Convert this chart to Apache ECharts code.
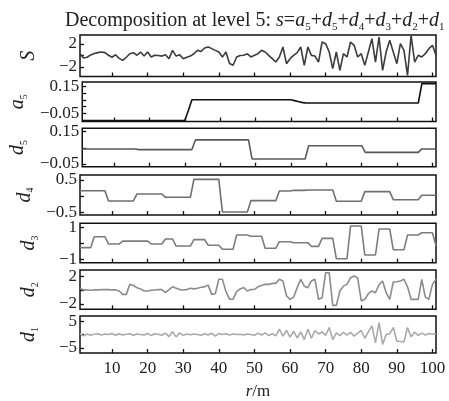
<!DOCTYPE html>
<html>
<head>
<meta charset="utf-8">
<script src="https://cdn.jsdelivr.net/npm/echarts@6/dist/echarts.min.js"></script>
<style>
html, body { margin: 0; padding: 0; background: #fff; }
#main { width: 449px; height: 401px; }
</style>
</head>
<body>
<div id="main"></div>
<script>
// r/m positions 1..101, ticks every 10
var xTicks = [10, 20, 30, 40, 50, 60, 70, 80, 90, 100];

var sVals = [
  0.3, -0.43, -0.3, 0.1, 0.35, 0.5, 0.6, 0.5, 0.05, -0.3,
  0.14, -0.5, -0.84, -0.3, 0.3, 0.5, 0.05, 0.6, -0.1, 0.6,
  -0.25, 0.05, 0.0, -0.1, 0.15, -0.55, 0.9, -0.1, 0.15, -0.55,
  -0.3, -0.1, 0.3, 0.9, 0.7, 1.3, 1.5, 1.2, 0.9, 0.6,
  -0.25, 0.6, -1.4, -1.7, -0.25, 0.0, 0.05, 0.3, -0.25, 0.03,
  0.32, 0.9, 0.61, 0.03, -0.55, -1.13, -0.26, 1.48, -1.42, -0.55,
  0.03, 0.5, 1.48, -1.71, 1.48, 0.03, -0.09, -1.13, 2.35, 2.06,
  0.61, -2.29, 0.61, -2.58, 0.32, -0.26, 2.35, 1.77, -0.26, 0.32,
  -1.71, 0.61, 2.93, -1.13, 3.22, -2.58, 0.61, 2.64, 0.61, -1.42,
  2.06, 0.9, -3.45, 3.51, -1.13, 0.03, -0.26, 0.32, 1.19, 1.77,
  0.03
];

var a5Vals = [
  -0.105, -0.105, -0.105, -0.105, -0.105, -0.105, -0.105, -0.105, -0.105, -0.105,
  -0.105, -0.105, -0.105, -0.105, -0.105, -0.105, -0.105, -0.105, -0.105, -0.105,
  -0.105, -0.105, -0.105, -0.105, -0.105, -0.105, -0.105, -0.105, -0.105, -0.105,
  -0.03, 0.052, 0.052, 0.052, 0.052, 0.052, 0.052, 0.052, 0.052, 0.052,
  0.052, 0.052, 0.052, 0.052, 0.052, 0.052, 0.052, 0.052, 0.052, 0.052,
  0.052, 0.052, 0.052, 0.052, 0.052, 0.052, 0.052, 0.052, 0.052, 0.052,
  0.045, 0.038, 0.032, 0.028, 0.027, 0.027, 0.027, 0.027, 0.027, 0.027,
  0.027, 0.027, 0.027, 0.027, 0.027, 0.027, 0.027, 0.027, 0.027, 0.027,
  0.027, 0.027, 0.027, 0.027, 0.027, 0.027, 0.027, 0.027, 0.027, 0.027,
  0.027, 0.027, 0.027, 0.027, 0.027, 0.027, 0.173, 0.173, 0.173, 0.173,
  0.173
];

var d5Vals = [
  0.043, 0.043, 0.043, 0.043, 0.043, 0.043, 0.043, 0.043, 0.043, 0.043,
  0.043, 0.043, 0.043, 0.043, 0.043, 0.043, 0.039, 0.039, 0.039, 0.039,
  0.039, 0.039, 0.039, 0.039, 0.039, 0.039, 0.039, 0.039, 0.039, 0.039,
  0.039, 0.039, 0.099, 0.099, 0.099, 0.099, 0.099, 0.099, 0.099, 0.099,
  0.099, 0.099, 0.099, 0.099, 0.099, 0.099, 0.099, 0.099, -0.019, -0.019,
  -0.019, -0.019, -0.019, -0.019, -0.019, -0.019, -0.019, -0.019, -0.019, -0.019,
  -0.019, -0.019, -0.019, -0.019, 0.063, 0.063, 0.063, 0.063, 0.063, 0.063,
  0.063, 0.063, 0.063, 0.063, 0.063, 0.063, 0.063, 0.063, 0.063, 0.063,
  0.022, 0.022, 0.022, 0.022, 0.022, 0.022, 0.022, 0.022, 0.022, 0.022,
  0.022, 0.022, 0.022, 0.022, 0.022, 0.022, 0.043, 0.043, 0.043, 0.043,
  0.043
];

var d4Vals = [
  0.169, 0.169, 0.169, 0.169, 0.169, 0.169, 0.169, 0.169, -0.15, -0.15,
  -0.15, -0.15, -0.15, -0.15, -0.15, -0.15, 0.067, 0.067, 0.067, 0.067,
  0.067, 0.067, 0.067, 0.067, -0.036, -0.036, -0.036, -0.036, -0.036, -0.036,
  -0.036, -0.036, 0.52, 0.52, 0.52, 0.52, 0.52, 0.52, 0.52, 0.52,
  -0.49, -0.49, -0.49, -0.49, -0.49, -0.49, -0.49, -0.49, -0.14, -0.14,
  -0.14, -0.14, -0.14, -0.14, -0.14, -0.14, 0.16, 0.16, 0.16, 0.16,
  0.18, 0.18, 0.18, 0.18, 0.19, 0.19, 0.19, 0.19, 0.19, 0.19,
  0.19, 0.19, -0.16, -0.16, -0.16, -0.16, -0.16, -0.16, -0.16, -0.16,
  0.14, 0.14, 0.14, 0.14, 0.14, 0.14, 0.14, 0.14, -0.11, -0.11,
  -0.11, -0.11, -0.11, -0.11, -0.11, -0.11, 0.026, 0.026, 0.026, 0.026,
  0.026
];

var d3Vals = [
  -0.27, -0.27, -0.27, -0.27, 0.41, 0.41, 0.41, 0.41, -0.04, -0.04,
  -0.04, -0.04, 0.14, 0.14, 0.14, 0.14, 0.14, 0.14, 0.14, 0.14,
  -0.04, -0.04, -0.04, -0.04, 0.27, 0.27, 0.27, -0.17, -0.17, -0.17,
  -0.17, -0.17, 0.23, 0.23, 0.23, 0.23, -0.12, -0.12, -0.12, -0.12,
  -0.37, -0.37, -0.37, -0.37, 0.52, 0.52, 0.52, 0.52, 0.44, 0.44,
  0.44, 0.44, -0.31, -0.31, -0.31, -0.31, 0.1, 0.1, 0.1, 0.1,
  0.04, 0.04, 0.04, 0.04, 0.04, -0.19, -0.19, -0.19, 0.31, 0.31,
  0.31, 0.31, -0.96, -0.96, -0.96, -0.96, 1.08, 1.08, 1.08, 1.08,
  -0.73, -0.73, -0.73, -0.73, 0.89, 0.89, 0.89, 0.89, -0.4, -0.4,
  -0.4, -0.4, 0.52, 0.52, 0.52, 0.52, 0.66, 0.66, 0.66, 0.66,
  -0.15
];

var d2Vals = [
  0.3, 0.05, 0.05, 0.0, 0.05, 0.05, 0.1, 0.1, 0.1, 0.05,
  0.05, -0.1, -0.6, -0.6, 0.86, 0.7, 0.38, 0.2, -0.1, -0.1,
  0.0, 0.05, 0.1, 0.1, -0.35, 0.1, 0.5, 0.3, 0.1, 0.05,
  0.1, 0.3, 0.2, 0.3, 0.45, 0.5, 0.75, -0.6, -0.5, 1.6,
  1.6, -0.2, -1.3, -1.3, -0.2, 0.2, 0.4, -0.1, 0.1, 0.14,
  0.5, 0.7, 0.86, 0.86, 1.0, 1.0, 1.59, 1.35, -0.8, -1.32,
  -1.0, 0.38, 1.59, 0.6, 0.38, 1.35, 1.59, -1.32, -1.1, 2.56,
  2.56, -2.2, -2.2, -0.1, 0.6, 0.86, 1.83, 2.07, 1.8, -1.56,
  -1.32, -0.5, -0.1, -0.35, 0.8, 1.35, -0.35, -1.32, 1.2, 1.25,
  1.35, 1.59, 0.5, -1.32, -1.32, -1.32, 1.59, -1.0, -1.32, 0.86,
  1.6
];

var d1Vals = [
  0.3, -0.5, 0.2, -0.3, 0.1, 0.3, -0.2, 0.2, 0.0, 0.4,
  -0.3, 0.3, -0.2, 0.1, 0.3, -0.3, 0.2, 0.0, -0.2, 0.4,
  -0.4, 0.3, 0.1, -0.3, 0.5, -0.8, 1.0, -0.9, 0.6, -0.3,
  0.2, -0.1, 0.2, 0.0, -0.3, 0.3, -0.2, 0.5, -0.6, 0.4,
  0.0, 0.3, -0.2, 0.2, 0.0, 0.1, -0.2, 0.2, 0.0, -0.3,
  0.5, -0.2, 0.6, -0.4, 0.3, -0.5, 2.0, -0.6, 1.5, -1.0,
  1.2, -1.3, 1.0, -1.9, 2.0, -1.4, 1.5, 0.2, 1.0, -0.3,
  2.6, -1.9, 0.6, -0.4, 0.8, -0.2, 0.8, -0.6, 0.5, 1.5,
  -1.4, 1.0, 3.2, -3.1, 4.4, -3.7, 0.0, 0.3, 2.6, -2.5,
  -2.6, -2.8, 2.6, -0.8, 0.9, -0.3, 0.5, -0.2, 0.4, 0.1,
  0.3
];

// y tick labels of each panel
var sLabels = [-2, 2];
var a5Labels = [-0.05, 0.15];
var d5Labels = [-0.05, 0.15];
var d4Labels = [-0.5, 0.5];
var d3Labels = [-1, 1];
var d2Labels = [-2, 2];
var d1Labels = [-5, 5];

var serif = 'Liberation Serif';

// layout of the seven stacked panels
var panels = [
  { vals: sVals,  labels: sLabels,  ticks: [-2, 0, 2], min: -3.65, max: 3.57, top: 35, height: 41.5, name: '{i|S}', color: '#3c3c3c' },
  { vals: a5Vals, labels: a5Labels, ticks: [-0.05, 0, 0.05, 0.1, 0.15], min: -0.112, max: 0.185, top: 82, height: 39.5, name: '{i|a}{s|5}', color: '#111' },
  { vals: d5Vals, labels: d5Labels, ticks: [-0.05, 0.05, 0.15], min: -0.067, max: 0.171, top: 128.3, height: 38.4, name: '{i|d}{s|5}', color: '#5a5a5a' },
  { vals: d4Vals, labels: d4Labels, ticks: [-0.5, 0, 0.5], min: -0.584, max: 0.655, top: 175, height: 40, name: '{i|d}{s|4}', color: '#707070' },
  { vals: d3Vals, labels: d3Labels, ticks: [-1, 0, 1], min: -1.21, max: 1.25, top: 223.3, height: 39.4, name: '{i|d}{s|3}', color: '#7c7c7c' },
  { vals: d2Vals, labels: d2Labels, ticks: [-2, 0, 2], min: -2.77, max: 2.95, top: 270, height: 39.3, name: '{i|d}{s|2}', color: '#8c8c8c' },
  { vals: d1Vals, labels: d1Labels, ticks: [-5, 0, 5], min: -6.9, max: 6.9, top: 316, height: 40, name: '{i|d}{s|1}', color: '#aaaaaa' }
];

function fmt(v) {
  return (v < 0 ? '\u2212' : '') + Math.abs(v);
}

var richName = {
  i: { fontFamily: serif, fontStyle: 'italic', fontSize: 20, lineHeight: 22, color: '#222' },
  s: { fontFamily: serif, fontSize: 10, lineHeight: 10, verticalAlign: 'bottom', color: '#222' }
};

var grids = [], xAxes = [], yAxes = [], series = [];
panels.forEach(function (p, k) {
  var last = k === panels.length - 1;
  grids.push({
    left: 80, width: 356, top: p.top, height: p.height,
    show: true, borderColor: '#111', borderWidth: 1.5, backgroundColor: 'transparent'
  });
  xAxes.push({
    gridIndex: k, type: 'value', min: 1, max: 101, position: 'bottom',
    axisLine: { show: false, onZero: false },
    axisTick: { show: true, inside: true, length: 4, customValues: xTicks, lineStyle: { color: '#111', width: 1.3 } },
    axisLabel: { show: last, customValues: xTicks, fontFamily: serif, fontSize: 17, color: '#222', margin: 7 },
    splitLine: { show: false },
    name: last ? '{i|r}/m' : '',
    nameLocation: 'middle', nameGap: 30,
    nameTextStyle: { fontFamily: serif, fontSize: 17, color: '#222', rich: {
      i: { fontFamily: serif, fontStyle: 'italic', fontSize: 17, color: '#222' }
    } }
  });
  yAxes.push({
    gridIndex: k, type: 'value', min: p.min, max: p.max, position: 'left',
    axisLine: { show: false, onZero: false },
    axisTick: { show: true, inside: true, length: 4, customValues: p.ticks, lineStyle: { color: '#111', width: 1.3 } },
    axisLabel: { customValues: p.labels, formatter: fmt, fontFamily: serif, fontSize: 17, color: '#222', margin: 3 },
    splitLine: { show: false },
    name: p.name, nameLocation: 'middle', nameRotate: 90, nameGap: 40,
    nameTextStyle: { fontFamily: serif, fontSize: 20, color: '#222', rich: richName }
  });
  series.push({
    type: 'line', xAxisIndex: k, yAxisIndex: k,
    data: p.vals.map(function (v, j) { return [j + 1, v]; }),
    showSymbol: false, symbol: 'none',
    lineStyle: { color: p.color, width: 1.6 },
    silent: true
  });
});

var chart = echarts.init(document.getElementById('main'));
chart.setOption({
  animation: false,
  backgroundColor: '#fff',
  title: {
    text: 'Decomposition at level 5: {i|s}={i|a}{s|5}+{i|d}{s|5}+{i|d}{s|4}+{i|d}{s|3}+{i|d}{s|2}+{i|d}{s|1}',
    left: 60, top: 4,
    textStyle: {
      fontFamily: serif, fontSize: 20, fontWeight: 'normal', color: '#222', lineHeight: 24,
      rich: {
        i: { fontFamily: serif, fontStyle: 'italic', fontSize: 20, lineHeight: 24, color: '#222' },
        s: { fontFamily: serif, fontSize: 11, lineHeight: 11, verticalAlign: 'bottom', color: '#222' }
      }
    }
  },
  grid: grids,
  xAxis: xAxes,
  yAxis: yAxes,
  series: series
});
</script>
</body>
</html>
